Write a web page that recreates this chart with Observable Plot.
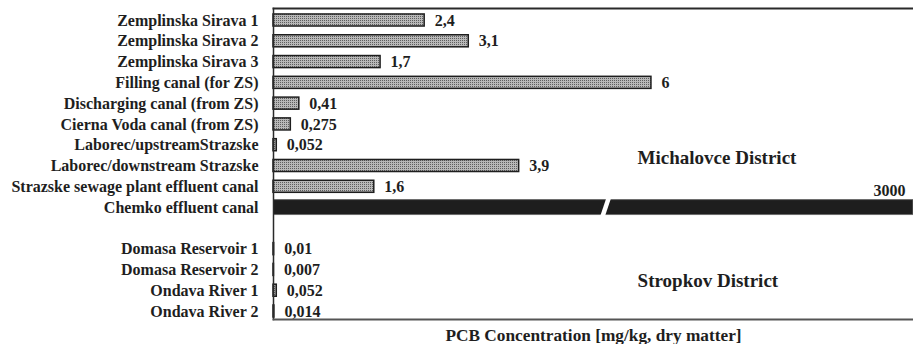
<!DOCTYPE html>
<html>
<head>
<meta charset="utf-8">
<script src="https://cdn.jsdelivr.net/npm/d3@7"></script>
<script src="https://cdn.jsdelivr.net/npm/@observablehq/plot@0.6"></script>
<style>
  html, body { margin: 0; padding: 0; background: #fff; }
  #chart svg { display: block; overflow: visible; }
</style>
</head>
<body>
<div id="chart"></div>
<script>
// Sampling sites, top to bottom; the empty entry separates the two districts.
const sites = [
  "Zemplinska Sirava 1",
  "Zemplinska Sirava 2",
  "Zemplinska Sirava 3",
  "Filling canal (for ZS)",
  "Discharging canal (from ZS)",
  "Cierna Voda canal (from ZS)",
  "Laborec/upstreamStrazske",
  "Laborec/downstream Strazske",
  "Strazske sewage plant effluent canal",
  "Chemko effluent canal",
  "",
  "Domasa Reservoir 1",
  "Domasa Reservoir 2",
  "Ondava River 1",
  "Ondava River 2"
];

// PCB concentration, mg/kg dry matter (null = spacer row)
const pcb = [2.4, 3.1, 1.7, 6, 0.41, 0.275, 0.052, 3.9, 1.6, 3000, null, 0.01, 0.007, 0.052, 0.014];

const districts = ["Michalovce District", "Stropkov District"];
const axisTitle = "PCB Concentration [mg/kg, dry matter]";

// Visible part of the concentration axis; larger values are drawn broken.
const xMax = 10.16;
const breakAt = 5.27;

const rows = sites.map((site, i) => ({i, site, value: pcb[i]}))
  .filter(d => d.value != null);
const inRange = rows.filter(d => d.value <= xMax);
const overRange = rows.filter(d => d.value > xMax);
const fmt = v => String(v).replace(".", ",");

const font = "'Liberation Serif', 'Times New Roman', serif";
const ink = "#1e1e1e";

const chart = Plot.plot({
  width: 913,
  height: 344,
  marginLeft: 273,
  marginRight: 0,
  marginTop: 8,
  marginBottom: 25,
  style: {fontFamily: font, background: "#fff", color: ink},
  x: {domain: [0, xMax], axis: null},
  y: {type: "linear", domain: [-0.577, 14.385], reverse: true, axis: null},
  marks: [
    // regular bars with stipple fill
    Plot.rectX(inRange, {
      x1: 0, x2: "value",
      y1: d => d.i - 0.29, y2: d => d.i + 0.29,
      fill: "url(#stipple)", stroke: ink, strokeWidth: 1.5
    }),
    // out-of-range bar runs to the edge of the axis
    Plot.rectX(overRange, {
      x1: 0, x2: d => Math.min(d.value, xMax),
      y1: d => d.i - 0.36, y2: d => d.i + 0.36,
      fill: "#1e1e1e", stroke: "#6a6a6a", strokeWidth: 1, clip: true
    }),
    // axis-break slash across the long bar
    Plot.link(overRange, {
      x1: breakAt - 0.05, x2: breakAt + 0.05,
      y1: d => d.i + 0.45, y2: d => d.i - 0.45,
      stroke: "#fff", strokeWidth: 4.5
    }),
    // value labels
    Plot.text(inRange, {
      x: "value", y: "i", text: d => fmt(d.value),
      dx: 10, textAnchor: "start",
      fontSize: 16, fontWeight: "bold", fill: ink
    }),
    Plot.text(overRange, {
      x: xMax, y: "i", text: d => fmt(d.value),
      dx: -8, dy: -17, textAnchor: "end",
      fontSize: 16, fontWeight: "bold", fill: ink
    }),
    // site names
    Plot.axisY({
      ticks: rows.map(d => d.i),
      tickFormat: i => sites[i],
      tickSize: 0, tickPadding: 15,
      fontSize: 16, fontWeight: "bold", fill: ink, label: null
    }),
    // district annotations
    Plot.text([districts[0]], {x: 5.78, y: 6.6, textAnchor: "start", fontSize: 19, fontWeight: "bold", fill: ink}),
    Plot.text([districts[1]], {x: 5.78, y: 12.55, textAnchor: "start", fontSize: 19, fontWeight: "bold", fill: ink}),
    // plot frame: left, top and bottom edges
    Plot.frame({anchor: "left", stroke: "#2a2a2a", strokeWidth: 1.5}),
    Plot.frame({anchor: "top", stroke: "#2a2a2a", strokeWidth: 2}),
    Plot.frame({anchor: "bottom", stroke: "#555", strokeWidth: 2}),
    // axis title
    Plot.text([axisTitle], {
      frameAnchor: "bottom", dy: 16, lineAnchor: "middle",
      fontSize: 17.3, fontWeight: "bold", fill: ink
    })
  ]
});

// stipple pattern used by the bars: a regular grid of fine dark dots
const defs = d3.select(chart).insert("defs", ":first-child");
const pat = defs.append("pattern")
  .attr("id", "stipple")
  .attr("width", 2).attr("height", 2)
  .attr("patternUnits", "userSpaceOnUse");
pat.append("rect").attr("width", 2).attr("height", 2).attr("fill", "#b8b8b8");
pat.append("rect").attr("x", 0).attr("y", 0).attr("width", 1).attr("height", 1).attr("fill", "#5e5e5e");

document.getElementById("chart").appendChild(chart);
</script>
</body>
</html>
